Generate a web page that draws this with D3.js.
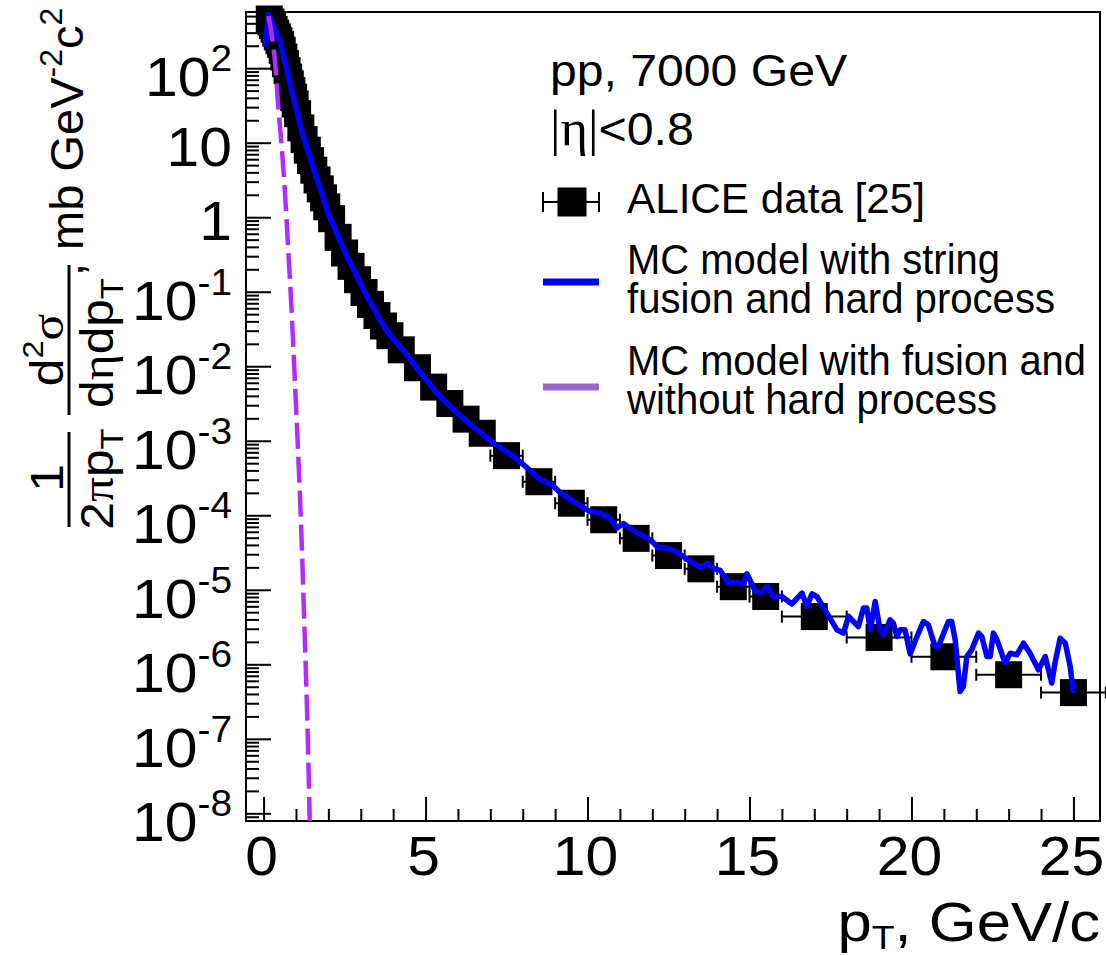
<!DOCTYPE html>
<html><head><meta charset="utf-8">
<script src="https://cdn.jsdelivr.net/npm/d3@7"></script>
<style>
body{margin:0;background:#fff}
svg{display:block}
text{font-family:"Liberation Sans",Arial,Helvetica,sans-serif;fill:#000}
.gr{font-family:"Liberation Serif","DejaVu Serif",serif}
</style>
</head><body>
<svg id="c" width="1106" height="955"></svg>
<script>
// ---------- data ----------
const dataPt = [0.175,0.225,0.275,0.325,0.375,0.425,0.475,0.525,0.575,0.625,0.675,0.725,0.775,0.825,0.875,0.925,0.975,
  1.05,1.15,1.25,1.35,1.45,1.55,1.65,1.75,1.85,1.95,
  2.1,2.3,2.5,2.7,2.9,3.1,3.3,3.5,3.7,3.9,
  4.25,4.75,5.25,5.75,6.25,6.75,
  7.5,8.5,9.5,10.5,11.5,12.5,13.5,14.5,15.5,
  17,19,21,23,25];
const dataXErr = [0.025,0.025,0.025,0.025,0.025,0.025,0.025,0.025,0.025,0.025,0.025,0.025,0.025,0.025,0.025,0.025,0.025,
  0.05,0.05,0.05,0.05,0.05,0.05,0.05,0.05,0.05,0.05,
  0.1,0.1,0.1,0.1,0.1,0.1,0.1,0.1,0.1,0.1,
  0.25,0.25,0.25,0.25,0.25,0.25,
  0.5,0.5,0.5,0.5,0.5,0.5,0.5,0.5,0.5,
  1,1,1,1,1];
const dataY = [457,417,372,331,295,263,234,209,174,141,115,93.3,75.9,61.7,50.1,40.7,33.1,
  24.5,15.8,11.0,7.94,5.75,4.27,3.16,2.40,1.82,1.38,
  0.955,0.537,0.331,0.219,0.145,0.0977,0.0676,0.0479,0.0347,0.0257,
  0.0166,0.00955,0.00525,0.00316,0.00195,0.00126,
  6.31e-4,2.82e-4,1.45e-4,8.71e-5,4.90e-5,2.88e-5,1.91e-5,1.10e-5,8.13e-6,
  4.37e-6,2.29e-6,1.26e-6,7.24e-7,4.17e-7];

const hardPt = [0.05,0.15,0.25,0.35,0.5,0.65,0.8,1.0,1.2,1.4,1.6,1.8,2.0,2.2,2.4,2.6,2.8,3.0,3.2,3.4,3.6,3.8,4.0,4.22,
  4.73,5.35,5.86,6.38,7.10,7.72,8.08,8.54,8.90,9.16,9.57,10.08,10.39,10.70,10.91,11.11,11.42,11.73,11.94,12.17,12.45,12.75,
  13.07,13.48,13.71,13.92,14.10,14.35,14.61,14.81,14.92,15.18,15.38,15.54,15.74,16.00,16.31,16.62,16.77,16.93,17.08,17.39,
  17.70,17.90,18.06,18.21,18.36,18.52,18.62,18.73,18.88,19.03,19.14,19.34,19.44,19.55,19.65,19.80,19.96,20.17,20.37,20.52,
  20.73,20.83,21.14,21.24,21.35,21.50,21.60,21.71,21.86,22.07,22.17,22.33,22.43,22.53,22.64,22.89,23.05,23.25,23.46,23.66,
  23.92,24.13,24.33,24.43,24.59,24.75,24.90,25.00];
const hardY = [195,525,417,331,234,126,67.6,29.5,13.2,7.08,3.72,2.09,1.10,0.708,0.437,0.282,0.191,0.126,0.0851,0.0603,0.0417,0.0302,0.0234,0.0182,
  0.00955,0.00437,0.00263,0.00166,9.33e-4,6.17e-4,4.52e-4,3.02e-4,2.57e-4,2.00e-4,1.53e-4,1.12e-4,1.07e-4,9.12e-5,6.76e-5,7.76e-5,6.17e-5,5.25e-5,4.68e-5,3.72e-5,3.63e-5,3.24e-5,
  2.57e-5,2.00e-5,2.26e-5,1.91e-5,1.82e-5,1.24e-5,1.26e-5,1.20e-5,1.64e-5,9.55e-6,9.20e-6,1.11e-5,8.13e-6,8.13e-6,6.46e-6,9.04e-6,5.97e-6,8.83e-6,8.13e-6,4.86e-6,
  2.90e-6,2.62e-6,4.39e-6,3.75e-6,3.21e-6,5.68e-6,5.68e-6,2.90e-6,6.97e-6,2.90e-6,2.49e-6,3.95e-6,3.57e-6,2.36e-6,2.90e-6,2.90e-6,1.38e-6,2.36e-6,3.75e-6,3.39e-6,
  1.73e-6,1.73e-6,3.75e-6,3.75e-6,2.13e-6,4.32e-7,5.04e-7,1.27e-6,1.57e-6,2.62e-6,2.36e-6,1.27e-6,1.27e-6,2.62e-6,2.13e-6,1.04e-6,1.41e-6,1.34e-6,1.92e-6,1.41e-6,
  8.43e-7,1.27e-6,5.60e-7,1.04e-6,2.24e-6,1.92e-6,9.33e-7,4.10e-7];

const softPt = [0.15,0.25,0.35,0.45,0.55,0.65,0.75,0.85,0.95,1.05,1.15,1.25,1.35,1.43];
const softY = [501,282,126,31.6,10,2.51,0.447,0.0741,8.91e-3,1.0e-3,8.91e-5,4.47e-6,1.78e-7,6.3e-9];

const xTickMajor = [0,5,10,15,20,25];
const yTickExp = [2,1,0,-1,-2,-3,-4,-5,-6,-7,-8];
const xDomain = [-0.543, 25.82];
const yDomain = [Math.pow(10,-8.103), Math.pow(10,2.754)];

const legendLabels = [["ALICE data [25]"],["MC model with string","fusion and hard process"],["MC model with fusion and","without hard process"]];
const legendWidths = [[298],[373],[428],[459],[370]];

// ---------- layout ----------
const L=246, R=1100, T=12, B=821;
const svg = d3.select("#c");
const x = d3.scaleLinear().domain(xDomain).range([L,R]);
const y = d3.scaleLog().domain(yDomain).range([B,T]);

svg.append("defs").append("clipPath").attr("id","clip")
  .append("rect").attr("x",L).attr("y",T).attr("width",R-L).attr("height",B-T);

// frame
svg.append("rect").attr("x",L).attr("y",T).attr("width",R-L).attr("height",B-T)
  .attr("fill","none").attr("stroke","#000").attr("stroke-width",2);

// y ticks
const yMajor = yTickExp.map(e=>Math.pow(10,e));
const yMinor = [];
for(let e=-9;e<=2;e++) for(let m=2;m<=9;m++){const v=m*Math.pow(10,e); if(v>yDomain[0]&&v<yDomain[1]) yMinor.push(v);}
function styleAxis(g){g.select(".domain").remove(); g.selectAll("line").attr("stroke","#000").attr("stroke-width",2); g.selectAll("text").remove();}
svg.append("g").attr("transform",`translate(${L},0)`).call(d3.axisLeft(y).tickValues(yMajor).tickSize(-25)).call(styleAxis);
svg.append("g").attr("transform",`translate(${L},0)`).call(d3.axisLeft(y).tickValues(yMinor).tickSize(-13)).call(styleAxis);

// x ticks
const xMinor = d3.range(0,26,1).filter(v=>v%5!==0);
svg.append("g").attr("transform",`translate(0,${B})`).call(d3.axisBottom(x).tickValues(xTickMajor).tickSize(-24)).call(styleAxis);
svg.append("g").attr("transform",`translate(0,${B})`).call(d3.axisBottom(x).tickValues(xMinor).tickSize(-12)).call(styleAxis);

// helper: text anchored at (ax,ay), stretched horizontally by sx
function stext(parent, ax, ay, anchor, size, sx){
  return parent.append("text").attr("transform",`translate(${ax},${ay}) scale(${sx},1)`)
    .attr("text-anchor",anchor).attr("font-size",size);
}

// y labels
yTickExp.forEach(e=>{
  const yy = y(Math.pow(10,e));
  if(e===0||e===1){
    stext(svg,232,yy+23,"end",56,1.05).text(e===0?"1":"10");
  } else {
    const t = stext(svg,232,yy+28,"end",56,1.05);
    t.append("tspan").text("10");
    t.append("tspan").attr("font-size",37).attr("dy",-25).text(String(e));
  }
});
// x labels
xTickMajor.forEach(v=>{
  stext(svg,x(v)-2,875,"middle",56,1.05).text(String(v));
});

// x title
const xt = stext(svg,1100,941,"end",56,1.1);
xt.append("tspan").text("p");
xt.append("tspan").attr("font-size",34).attr("dy",8).text("T");
xt.append("tspan").attr("dy",-8).text(", GeV/c");

// y title (rotated)
const gT = svg.append("g").attr("transform","rotate(-90)");
function rt(Y,X,anchor,size,sx){return stext(gT,-Y,X,anchor,size||46,sx||1.08);}
rt(478,63,"middle").text("1");
gT.append("line").attr("x1",-527).attr("x2",-432).attr("y1",69).attr("y2",69).attr("stroke","#000").attr("stroke-width",3);
let d1 = rt(479,113,"middle");
d1.append("tspan").text("2"); d1.append("tspan").attr("class","gr").text("π"); d1.append("tspan").text("p");
d1.append("tspan").attr("font-size",32).attr("dy",10).text("T");
let n2 = rt(350,63,"middle");
n2.append("tspan").text("d"); n2.append("tspan").attr("font-size",30).attr("dy",-20).text("2");
n2.append("tspan").attr("class","gr").attr("dy",20).text("σ");
gT.append("line").attr("x1",-415).attr("x2",-265).attr("y1",69).attr("y2",69).attr("stroke","#000").attr("stroke-width",3);
let d2 = rt(343,113,"middle");
d2.append("tspan").text("d"); d2.append("tspan").attr("class","gr").text("η"); d2.append("tspan").text("dp");
d2.append("tspan").attr("font-size",32).attr("dy",10).text("T");
let u = rt(276,83,"start",47,1.0);
u.append("tspan").text(", mb GeV"); u.append("tspan").attr("font-size",32).attr("dy",-21).text("-2");
u.append("tspan").attr("dy",21).text("c"); u.append("tspan").attr("font-size",32).attr("dy",-21).text("2");

// data: error bars + squares
const data = dataPt.map((p,i)=>({p, v:dataY[i], e:dataXErr[i]}));
const eb = svg.append("g").attr("stroke","#000").attr("stroke-width",2);
data.forEach(d=>{
  const yy=y(d.v), x0=x(d.p-d.e), x1=x(d.p+d.e);
  eb.append("line").attr("x1",x0).attr("x2",x1).attr("y1",yy).attr("y2",yy);
  eb.append("line").attr("x1",x0).attr("x2",x0).attr("y1",yy-6).attr("y2",yy+6);
  eb.append("line").attr("x1",x1).attr("x2",x1).attr("y1",yy-6).attr("y2",yy+6);
});
const S=27;
svg.append("g").selectAll("rect").data(data).join("rect")
  .attr("x",d=>x(d.p)-S/2).attr("y",d=>y(d.v)-S/2).attr("width",S).attr("height",S).attr("fill","#000");

// MC lines
const lineH = d3.line().x((d,i)=>x(hardPt[i])).y(d=>y(d));
svg.append("path").attr("clip-path","url(#clip)").attr("d",lineH(hardY))
  .attr("fill","none").attr("stroke","#0000ff").attr("stroke-width",5.5).attr("stroke-linejoin","round");
const lineS = d3.line().x((d,i)=>x(softPt[i])).y(d=>y(d)).curve(d3.curveCatmullRom);
svg.append("path").attr("clip-path","url(#clip)").attr("d",lineS(softY))
  .attr("fill","none").attr("stroke","#b22cff").attr("stroke-width",4.5).attr("stroke-dasharray","26,8");

// header text
svg.append("text").attr("x",550).attr("y",86).attr("font-size",44)
  .attr("textLength",297).attr("lengthAdjust","spacingAndGlyphs").text("pp, 7000 GeV");
const eta = stext(svg,550,145,"start",46,1.05);
eta.append("tspan").attr("class","gr").attr("font-size",50).text("|η|"); eta.append("tspan").text("<0.8");

// legend
const lg = svg.append("g");
function ltext(s,yy,w){lg.append("text").attr("x",627).attr("y",yy).attr("font-size",43)
  .attr("textLength",w).attr("lengthAdjust","spacingAndGlyphs").text(s);}
// entry 1
lg.append("line").attr("x1",543).attr("x2",599).attr("y1",202).attr("y2",202).attr("stroke","#000").attr("stroke-width",2);
[543,599].forEach(xx=>lg.append("line").attr("x1",xx).attr("x2",xx).attr("y1",192).attr("y2",212).attr("stroke","#000").attr("stroke-width",2));
lg.append("rect").attr("x",572-14.5).attr("y",202-14.5).attr("width",29).attr("height",29).attr("fill","#000");
ltext(legendLabels[0][0],213,legendWidths[0][0]);
// entry 2
lg.append("line").attr("x1",543).attr("x2",599).attr("y1",282).attr("y2",282).attr("stroke","#0000ff").attr("stroke-width",7);
ltext(legendLabels[1][0],274,legendWidths[1][0]);
ltext(legendLabels[1][1],313,legendWidths[2][0]);
// entry 3
lg.append("line").attr("x1",543).attr("x2",599).attr("y1",387).attr("y2",387).attr("stroke","#9966cc").attr("stroke-width",7);
ltext(legendLabels[2][0],375,legendWidths[3][0]);
ltext(legendLabels[2][1],414,legendWidths[4][0]);
</script>
</body></html>
